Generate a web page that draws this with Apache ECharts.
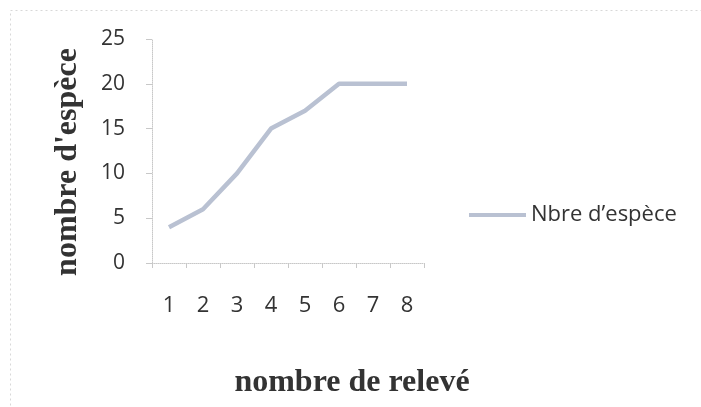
<!DOCTYPE html>
<html>
<head>
<meta charset="utf-8">
<script src="https://cdn.jsdelivr.net/npm/echarts@6/dist/echarts.min.js"></script>
<style>html,body{margin:0;padding:0;background:#fff}#c{width:701px;height:407px}</style>
</head>
<body>
<div id="c"></div>
<script>
const categories = ['1','2','3','4','5','6','7','8'];
const especes = [4, 6, 10, 15, 17, 20, 20, 20];
const seriesName = 'Nbre d\u2019espèce';
const xTitle = 'nombre de relevé';
const yTitle = "nombre d'espèce";

const chart = echarts.init(document.getElementById('c'), null, {renderer: 'canvas'});
chart.setOption({
  backgroundColor: '#ffffff',
  animation: false,
  graphic: [{
    type: 'rect', left: 8, top: 8,
    shape: {width: 700, height: 405},
    style: {fill: 'none', stroke: '#d8d8d8', lineWidth: 1, lineDash: [2, 3]}
  }, {
    type: 'text', x: 352, y: 383,
    style: {
      text: xTitle, align: 'center', verticalAlign: 'middle',
      fontFamily: 'Liberation Serif', fontWeight: 'bold', fontSize: 32, fill: '#333'
    }
  }, {
    type: 'text', x: 68, y: 162, rotation: Math.PI / 2,
    style: {
      text: yTitle, align: 'center', verticalAlign: 'middle',
      fontFamily: 'Liberation Serif', fontWeight: 'bold', fontSize: 32, fill: '#333'
    }
  }],
  grid: {left: 152, right: 277, top: 39, bottom: 144},
  legend: {
    data: [{name: seriesName, icon: 'rect'}],
    left: 464, top: 199,
    itemWidth: 57, itemHeight: 4, itemGap: 3,
    textStyle: {fontFamily: 'Open Sans', fontSize: 22, color: '#333'}
  },
  xAxis: {
    type: 'category', data: categories, boundaryGap: true,
    axisLine: {lineStyle: {color: '#c8c8c8', type: 'dotted', width: 1}},
    axisTick: {show: true, length: 5, lineStyle: {color: '#c8c8c8'}},
    axisLabel: {margin: 32, fontFamily: 'Open Sans', fontSize: 22, color: '#333'}
  },
  yAxis: {
    type: 'value', min: 0, max: 25, interval: 5,
    axisLine: {show: true, lineStyle: {color: '#c8c8c8', type: 'dotted', width: 1}},
    axisTick: {show: true, length: 6, lineStyle: {color: '#c8c8c8'}},
    splitLine: {show: false},
    axisLabel: {margin: 27, fontFamily: 'Open Sans', fontSize: 21, color: '#333'}
  },
  series: [{
    name: seriesName, type: 'line', data: especes,
    symbol: 'none',
    lineStyle: {color: '#b9c1d2', width: 4.5},
    itemStyle: {color: '#b9c1d2'}
  }]
});
</script>
</body>
</html>
